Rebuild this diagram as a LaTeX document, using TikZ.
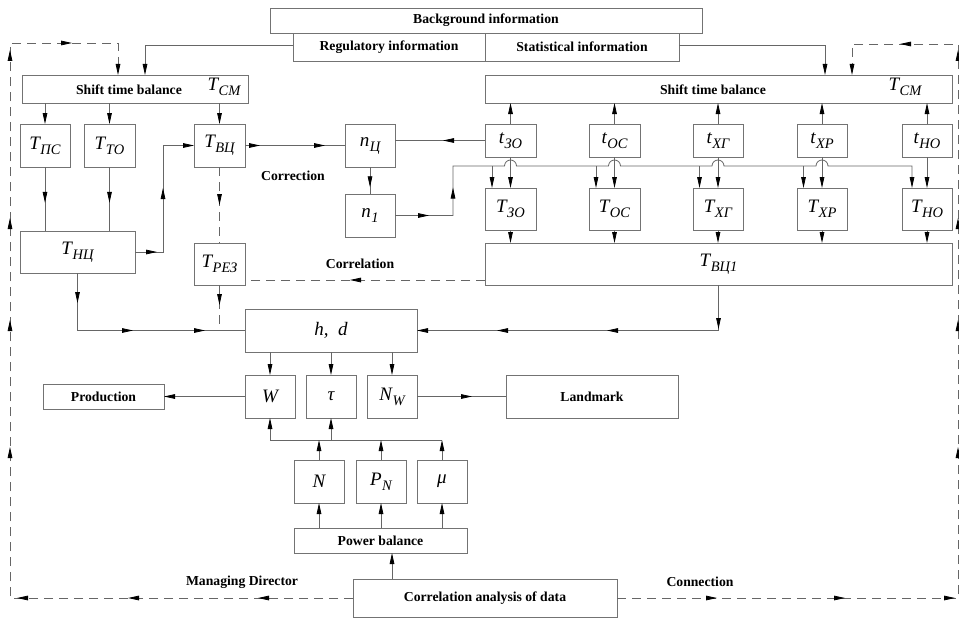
\documentclass[tikz,border=0pt]{standalone}
\usepackage{fontspec}
\setmainfont{Liberation Serif}
\usetikzlibrary{arrows.meta,decorations.markings}
\newcommand\vsym[2]{{\fontsize{19}{19}\selectfont\itshape #1}\kern0.5pt\raisebox{-5pt}{\fontsize{14.5}{14.5}\selectfont\itshape #2}}
\tikzset{
  Tri/.tip={Triangle[length=11pt,width=4.6pt,color=black]},
  bx/.style 2 args={draw=black!55, line width=0.9pt, inner sep=0pt, outer sep=0pt,
     minimum width=#1, minimum height=#2},
  lbl/.style={font=\fontsize{13.7}{16}\selectfont\bfseries, inner sep=0pt},
  ln/.style={draw=black!60, line width=0.8pt},
  dsh/.style={ln, dash pattern=on 9pt off 6pt},
  am/.style={postaction={decorate,decoration={markings,mark=at position #1 with {\arrow{Tri}}}}}
}
\begin{document}
\begin{tikzpicture}[x=1pt,y=-1pt]
\fill[white] (0,0) rectangle (959,618);
\useasboundingbox (0,0) rectangle (959,618);

% top boxes
\node[bx={432pt}{25pt},lbl] (bg) at (486,20.5) {Background information};
\node[bx={192pt}{28pt},lbl] (reg) at (389,47) {Regulatory information};
\node[bx={194pt}{28pt},lbl] (stat) at (582,47) {Statistical information};

% shift time balance boxes
\node[bx={226pt}{28pt}] (stbL) at (135,89) {};
\node[lbl] (stbLt) at (129,90) {Shift time balance};
\node (stbLm) at (224,87) {\vsym{T}{CM}};
\node[bx={467pt}{28pt}] (stbR) at (718.5,89) {};
\node[lbl] (stbRt) at (713,90) {Shift time balance};
\node (stbRm) at (905,87) {\vsym{T}{CM}};

% left column boxes
\node[bx={50pt}{43pt}] (tps) at (45,145.5) {\vsym{T}{ПС}};
\node[bx={51pt}{43pt}] (tto) at (109.5,145.5) {\vsym{T}{ТО}};
\node[bx={51pt}{43pt}] (tvc) at (219.5,145.5) {\vsym{T}{ВЦ}};
\node[bx={50pt}{43pt}] (nc) at (370,145.5) {\vsym{n}{Ц}};
\node[bx={50pt}{43pt}] (n1) at (370,215.5) {\vsym{n}{1}};
\node[bx={115pt}{42pt}] (tnc) at (77.5,252) {\vsym{T}{НЦ}};
\node[bx={51pt}{42pt}] (trez) at (219.5,264) {\vsym{T}{РЕЗ}};

% right rows
\node[bx={51pt}{33pt}] (tZO) at (510.5,140.5) {\vsym{t}{ЗО}};
\node[bx={51pt}{33pt}] (tOC) at (614.5,140.5) {\vsym{t}{ОС}};
\node[bx={50pt}{33pt}] (tXG) at (718,140.5) {\vsym{t}{ХГ}};
\node[bx={50pt}{33pt}] (tXR) at (822,140.5) {\vsym{t}{ХР}};
\node[bx={50pt}{33pt}] (tNO) at (927,140.5) {\vsym{t}{НО}};
\node[bx={51pt}{42pt}] (TZO) at (510.5,209) {\vsym{T}{ЗО}};
\node[bx={51pt}{42pt}] (TOC) at (614.5,209) {\vsym{T}{ОС}};
\node[bx={50pt}{42pt}] (TXG) at (718,209) {\vsym{T}{ХГ}};
\node[bx={50pt}{42pt}] (TXR) at (822,209) {\vsym{T}{ХР}};
\node[bx={50pt}{42pt}] (TNO) at (927,209) {\vsym{T}{НО}};
\node[bx={467pt}{42pt}] (tvc1) at (718.5,264) {\vsym{T}{ВЦ1}};

% middle
\node[bx={172pt}{43pt}] (hd) at (331,330.5) {{\fontsize{19}{19}\selectfont\itshape h,\ \ d}};
\node[bx={50pt}{43pt}] (W) at (270,396.5) {{\fontsize{19}{19}\selectfont\itshape W}};
\node[bx={50pt}{43pt}] (tau) at (331,396.5) {{\fontsize{19}{19}\selectfont\itshape τ}};
\node[bx={50pt}{43pt}] (NW) at (392,396.5) {\vsym{N}{W}};
\node[bx={121pt}{25pt},lbl] (prod) at (103.5,396.5) {Production};
\node[bx={172pt}{43pt},lbl] (land) at (592,396.5) {Landmark};

% bottom
\node[bx={50pt}{43pt}] (N) at (319,481.5) {{\fontsize{19}{19}\selectfont\itshape N}};
\node[bx={50pt}{43pt}] (PN) at (381,481.5) {\vsym{P}{N}};
\node[bx={50pt}{43pt}] (mu) at (442,481.5) {{\fontsize{19}{19}\selectfont\itshape μ}};
\node[bx={173pt}{25pt},lbl] (pb) at (380.5,540.5) {Power balance};
\node[bx={264pt}{38pt},lbl] (corr) at (485,598) {Correlation analysis of data};

% labels
\node[lbl] (lcorr) at (293,176) {Correction};
\node[lbl] (lcorl) at (360,264) {Correlation};
\node[lbl] (lman) at (242,582) {Managing Director};
\node[lbl] (lcon) at (700,582) {Connection};

% coordinates
\coordinate (dl1) at (10,598);
\coordinate (dl2) at (10,43);
\coordinate (dl3) at (118,43);
\coordinate (dr1) at (958,598);
\coordinate (dr2) at (958,44);
\coordinate (dr3) at (852,44);
\coordinate (j0) at (453,166);
\coordinate (busL) at (270,440);

% dashed loops
\draw[dsh, am=95pt, am=225pt, am=336pt, am=494pt, am=621pt, am=723pt, am=891pt, am=960pt, -{Tri}]
  (corr.west) -- (dl1) -- (dl2) -- (dl3) -- (dl3 |- stbL.north);
\draw[dsh, am=100pt, am=228pt, am=338pt, am=492pt, am=619pt, am=721pt, am=889pt, am=953pt, -{Tri}]
  (corr.east) -- (dr1) -- (dr2) -- (dr3) -- (dr3 |- stbR.north);

% information to balances
\draw[ln,-{Tri}] ([yshift=2pt]reg.west) -| ([xshift=10pt]stbL.north);
\draw[ln,-{Tri}] ([yshift=2pt]stat.east) -| ([xshift=106.5pt]stbR.north);

% left part
\foreach \n in {tps,tto,tvc} \draw[ln,-{Tri}] (\n.north |- stbL.south) -- (\n.north);
\foreach \n in {tps,tto} \draw[ln,am=0.56] (\n.south) -- (\n.south |- tnc.north);
\draw[ln, am=22pt, am=92pt, -{Tri}] (tnc.east) -- ++(28,0) |- (tvc.west);
\draw[ln, am=15pt, am=80pt] (tvc.east) -- (nc.west);
\draw[dsh, am=0.5] (tvc.south) -- (trez.north);
\draw[ln, am=0.75] (nc.south) -- (n1.north);
\draw[ln, am=42pt] (tZO.west) -- (tZO.west -| nc.east);

% distribution line with hops
\draw[ln, am=34pt, am=86pt, -{Tri}] (n1.east) -| (j0)
  -- ([xshift=-6pt]tZO.south |- j0) arc[start angle=180,end angle=0,radius=6pt]
  -- ([xshift=-6pt]tOC.south |- j0) arc[start angle=180,end angle=0,radius=6pt]
  -- ([xshift=-6pt]tXG.south |- j0) arc[start angle=180,end angle=0,radius=6pt]
  -- ([xshift=-6pt]tXR.south |- j0) arc[start angle=180,end angle=0,radius=6pt]
  -- ([xshift=-15pt]TNO.north |- j0) -- ([xshift=-15pt]TNO.north);
\foreach \n in {TZO,TOC,TXG,TXR}
  \draw[ln,-{Tri}] ([xshift=-18.5pt]\n.north |- j0) -- ([xshift=-18.5pt]\n.north);
\foreach \a/\b in {tZO/TZO,tOC/TOC,tXG/TXG,tXR/TXR,tNO/TNO}{
  \draw[ln,-{Tri}] (\a.south) -- (\b.north);
  \draw[ln,-{Tri}] (\a.north) -- (\a.north |- stbR.south);
  \draw[ln,-{Tri}] (\b.south) -- (\b.south |- tvc1.north);
}
\draw[dsh, am=135pt] ([yshift=-16pt]tvc1.west) -- ([yshift=-16pt]tvc1.west -| trez.east);

% into h,d
\draw[ln, am=44pt, am=157pt, am=267pt, -{Tri}] (tvc1.south) |- (hd.east);
\draw[ln, am=30pt, am=113pt, am=185pt] (tnc.south) |- (hd.west);
\draw[dsh, am=20pt] (trez.south) -- (trez.south |- hd.west);
\foreach \n in {W,tau,NW} \draw[ln,-{Tri}] (\n.north |- hd.south) -- (\n.north);
\draw[ln,-{Tri}] (W.west) -- (prod.east);
\draw[ln, am=55pt] (NW.east) -- (land.west);

% bus and bottom
\draw[ln] (busL) -- (mu.north |- busL);
\foreach \n in {N,PN,mu} \draw[ln,-{Tri}] (\n.north) -- (\n.north |- busL);
\foreach \n in {W,tau} \draw[ln,-{Tri}] (\n.south |- busL) -- (\n.south);
\foreach \n in {N,PN,mu} \draw[ln,-{Tri}] (\n.south |- pb.north) -- (\n.south);
\draw[ln,-{Tri}] ([xshift=-93pt]corr.north) -- ([xshift=-93pt]corr.north |- pb.south);
\end{tikzpicture}
\end{document}
